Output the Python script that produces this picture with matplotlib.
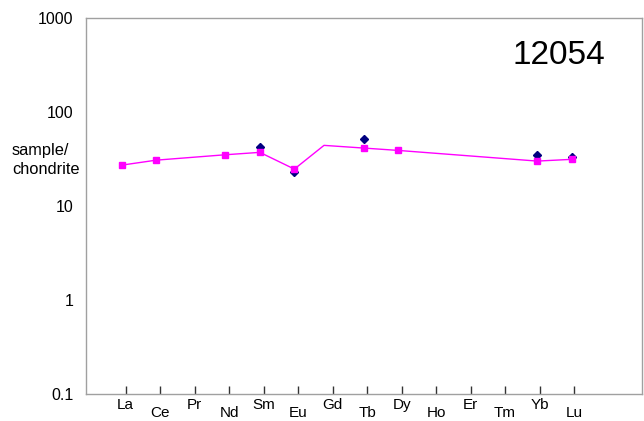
import matplotlib
matplotlib.use("Agg")
import matplotlib.pyplot as plt
import numpy as np

plt.rcParams['font.family'] = ['Liberation Sans', 'DejaVu Sans']

elements = ["La", "Ce", "Pr", "Nd", "Sm", "Eu", "Gd", "Tb", "Dy", "Ho", "Er", "Tm", "Yb", "Lu"]
# normalized (model) line: element index and value
line_x = [0.89, 1.89, 3.89, 4.89, 5.89, 6.75, 7.9, 8.9, 12.93, 13.93]
line_y = [27.0, 30.5, 34.8, 36.9, 24.5, 43.8, 41.0, 38.7, 29.8, 31.1]
# markers on line (Gd has no marker)
sq_x = [0.89, 1.89, 3.89, 4.89, 5.89, 7.9, 8.9, 12.93, 13.93]
sq_y = [27.0, 30.5, 34.8, 36.9, 24.5, 41.0, 38.7, 29.8, 31.1]
# sample points (dark blue diamonds)
dia_x = [4.89, 5.89, 7.9, 12.93, 13.93]
dia_y = [41.7, 22.9, 51.0, 34.8, 33.1]

ytick_vals = [0.1, 1, 10, 100, 1000]
ytick_labels = ["0.1", "1", "10", "100", "1000"]

fig = plt.figure(figsize=(6.44, 4.21), dpi=100)
ax = fig.add_axes([0.133, 0.065, 0.864, 0.893])

ax.plot(dia_x, dia_y, linestyle='none', marker='D', color='#000080', markersize=4, zorder=2)
ax.plot(line_x, line_y, color='#ff00ff', linewidth=1.0, zorder=3)
ax.plot(sq_x, sq_y, linestyle='none', marker='s', color='#ff00ff', markersize=4.5, zorder=4)

ax.set_yscale('log')
ax.set_ylim(0.1, 1000)
ax.set_xlim(-0.16, 15.97)

ax.set_yticks(ytick_vals)
ax.set_yticklabels(ytick_labels)
ax.yaxis.set_minor_locator(matplotlib.ticker.NullLocator())
ax.tick_params(axis='y', length=0, pad=9, labelsize=11.5)

idx = np.arange(1, len(elements) + 1)
major = idx[::2]
minor = idx[1::2]
ax.set_xticks(major)
ax.set_xticklabels(elements[::2])
ax.set_xticks(minor, minor=True)
ax.set_xticklabels(elements[1::2], minor=True)
ax.tick_params(axis='x', which='both', direction='in', length=6, width=1, color='#333333', labelsize=11)
ax.tick_params(axis='x', which='major', pad=3)
ax.tick_params(axis='x', which='minor', pad=9.2)

for s in ax.spines.values():
    s.set_color('#a0a0a0')
    s.set_linewidth(1)

ax.text(0.85, 0.9, "12054", transform=ax.transAxes, fontsize=24, ha='center', va='center')
fig.text(12/644, 1 - 160/421, "sample/\nchondrite", fontsize=11.8, ha='left', va='center', linespacing=1.3)

fig.savefig("out.png", dpi=100)
